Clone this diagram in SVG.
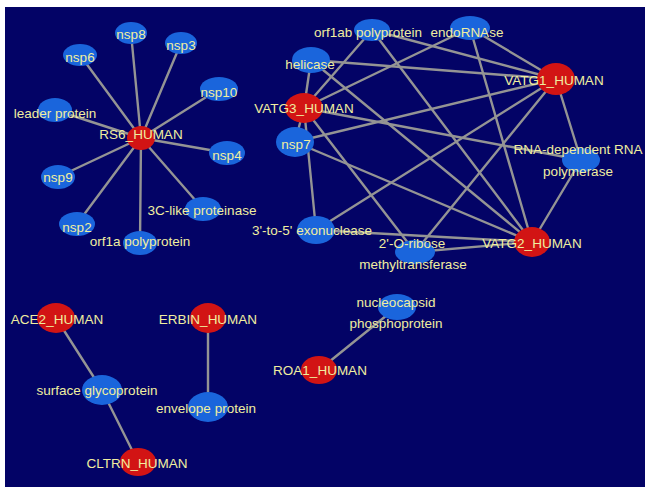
<svg xmlns="http://www.w3.org/2000/svg" width="645" height="493" viewBox="0 0 645 493">
<style>
.e line{stroke:#949494;stroke-width:2.4;stroke-linecap:round}
.b{fill:#1a65dc}
.r{fill:#d21414}
text{font-family:"Liberation Sans",Arial,sans-serif;font-size:13.5px;fill:#f0eea0;text-anchor:middle}
</style>
<rect x="0" y="0" width="645" height="493" fill="#ffffff"/>
<rect x="5" y="7" width="640" height="480" fill="#030366"/>
<g class="e" id="connectors">
<line x1="141" y1="138" x2="131" y2="33"/>
<line x1="141" y1="138" x2="80" y2="55"/>
<line x1="141" y1="138" x2="181" y2="43"/>
<line x1="141" y1="138" x2="219" y2="89"/>
<line x1="141" y1="138" x2="55" y2="110"/>
<line x1="141" y1="138" x2="227" y2="153"/>
<line x1="141" y1="138" x2="58" y2="177"/>
<line x1="141" y1="138" x2="203" y2="209"/>
<line x1="141" y1="138" x2="77" y2="224"/>
<line x1="141" y1="138" x2="140" y2="243"/>
<line x1="556" y1="79" x2="372" y2="30"/>
<line x1="556" y1="79" x2="470" y2="28"/>
<line x1="556" y1="79" x2="311" y2="60"/>
<line x1="556" y1="79" x2="295" y2="142"/>
<line x1="556" y1="79" x2="581" y2="160"/>
<line x1="556" y1="79" x2="316" y2="230"/>
<line x1="556" y1="79" x2="415" y2="252"/>
<line x1="532" y1="242" x2="372" y2="30"/>
<line x1="532" y1="242" x2="470" y2="28"/>
<line x1="532" y1="242" x2="311" y2="60"/>
<line x1="532" y1="242" x2="295" y2="142"/>
<line x1="532" y1="242" x2="581" y2="160"/>
<line x1="532" y1="242" x2="316" y2="230"/>
<line x1="532" y1="242" x2="415" y2="252"/>
<line x1="304" y1="108" x2="372" y2="30"/>
<line x1="304" y1="108" x2="470" y2="28"/>
<line x1="304" y1="108" x2="311" y2="60"/>
<line x1="304" y1="108" x2="295" y2="142"/>
<line x1="304" y1="108" x2="581" y2="160"/>
<line x1="304" y1="108" x2="316" y2="230"/>
<line x1="304" y1="108" x2="415" y2="252"/>
<line x1="56" y1="318" x2="102" y2="390"/>
<line x1="102" y1="390" x2="138" y2="462"/>
<line x1="208" y1="318" x2="208" y2="407"/>
<line x1="319" y1="370" x2="397" y2="307"/>
</g>
<g id="RS6_HUMAN"><ellipse class="r" cx="141" cy="138" rx="14" ry="12"/><text x="141" y="139">RS6_HUMAN</text></g>
<g id="nsp8"><ellipse class="b" cx="131" cy="33" rx="16" ry="11"/><text x="131" y="39">nsp8</text></g>
<g id="nsp6"><ellipse class="b" cx="80" cy="55" rx="17" ry="11"/><text x="80" y="62">nsp6</text></g>
<g id="nsp3"><ellipse class="b" cx="181" cy="43" rx="16" ry="11"/><text x="181" y="50">nsp3</text></g>
<g id="nsp10"><ellipse class="b" cx="219" cy="89" rx="19" ry="12"/><text x="219" y="97">nsp10</text></g>
<g id="leader_protein"><ellipse class="b" cx="55" cy="110" rx="17" ry="12"/><text x="55" y="118">leader protein</text></g>
<g id="nsp4"><ellipse class="b" cx="227" cy="153" rx="18" ry="12"/><text x="227" y="160">nsp4</text></g>
<g id="nsp9"><ellipse class="b" cx="58" cy="177" rx="17" ry="12"/><text x="58" y="182">nsp9</text></g>
<g id="3C-like_proteinase"><ellipse class="b" cx="203" cy="209" rx="18" ry="12"/><text x="202" y="215">3C-like proteinase</text></g>
<g id="nsp2"><ellipse class="b" cx="77" cy="224" rx="18" ry="12"/><text x="77" y="232">nsp2</text></g>
<g id="orf1a_polyprotein"><ellipse class="b" cx="140" cy="243" rx="17" ry="12"/><text x="140" y="246">orf1a polyprotein</text></g>
<g id="orf1ab_polyprotein"><ellipse class="b" cx="372" cy="30" rx="18" ry="11"/><text x="368" y="37">orf1ab polyprotein</text></g>
<g id="endoRNAse"><ellipse class="b" cx="470" cy="28" rx="20" ry="12"/><text x="467" y="37">endoRNAse</text></g>
<g id="helicase"><ellipse class="b" cx="311" cy="60" rx="19" ry="13"/><text x="310" y="69">helicase</text></g>
<g id="VATG1_HUMAN"><ellipse class="r" cx="556" cy="79" rx="19" ry="16"/><text x="554" y="85">VATG1_HUMAN</text></g>
<g id="VATG3_HUMAN"><ellipse class="r" cx="304" cy="108" rx="19" ry="15"/><text x="304" y="113">VATG3_HUMAN</text></g>
<g id="nsp7"><ellipse class="b" cx="295" cy="142" rx="19" ry="15"/><text x="296" y="149">nsp7</text></g>
<g id="RNA-dependent_RNA_polymerase"><ellipse class="b" cx="581" cy="160" rx="19" ry="12"/><text x="578" y="154">RNA-dependent RNA</text><text x="578" y="176">polymerase</text></g>
<g id="exonuclease"><ellipse class="b" cx="316" cy="230" rx="19" ry="14"/><text x="312" y="235">3'-to-5' exonuclease</text></g>
<g id="methyltransferase"><ellipse class="b" cx="415" cy="252" rx="20" ry="12"/><text x="412" y="248">2'-O-ribose</text><text x="413" y="269">methyltransferase</text></g>
<g id="VATG2_HUMAN"><ellipse class="r" cx="532" cy="242" rx="18" ry="15"/><text x="532" y="248">VATG2_HUMAN</text></g>
<g id="ACE2_HUMAN"><ellipse class="r" cx="56" cy="318" rx="19" ry="15"/><text x="57" y="324">ACE2_HUMAN</text></g>
<g id="ERBIN_HUMAN"><ellipse class="r" cx="208" cy="318" rx="18" ry="15"/><text x="208" y="324">ERBIN_HUMAN</text></g>
<g id="surface_glycoprotein"><ellipse class="b" cx="102" cy="390" rx="20" ry="15"/><text x="97" y="395">surface glycoprotein</text></g>
<g id="envelope_protein"><ellipse class="b" cx="208" cy="407" rx="20" ry="15"/><text x="206" y="413">envelope protein</text></g>
<g id="CLTRN_HUMAN"><ellipse class="r" cx="138" cy="462" rx="18" ry="14"/><text x="137" y="468">CLTRN_HUMAN</text></g>
<g id="nucleocapsid_phosphoprotein"><ellipse class="b" cx="397" cy="307" rx="19" ry="13"/><text x="396" y="307">nucleocapsid</text><text x="396" y="328">phosphoprotein</text></g>
<g id="ROA1_HUMAN"><ellipse class="r" cx="319" cy="370" rx="18" ry="14"/><text x="320" y="375">ROA1_HUMAN</text></g>
</svg>
